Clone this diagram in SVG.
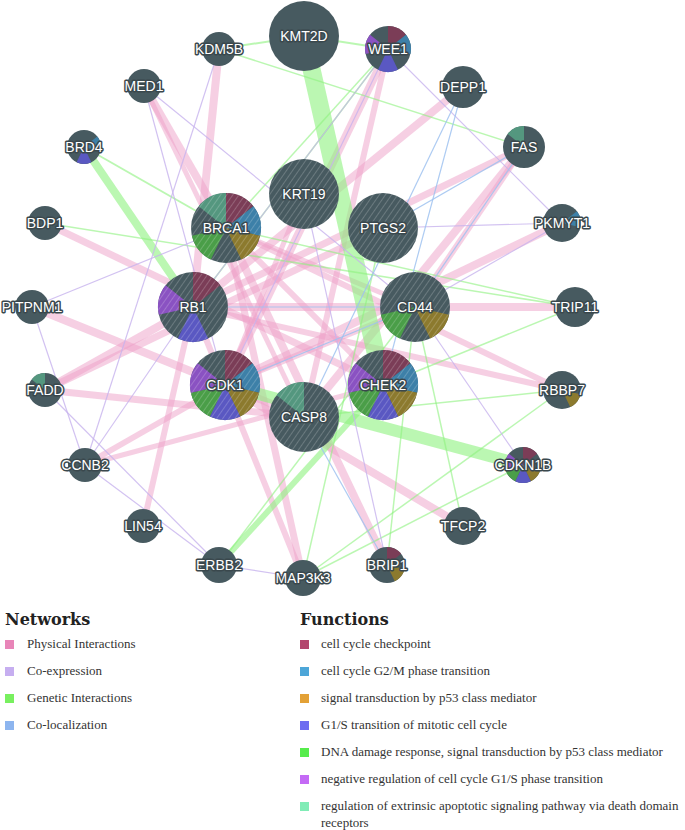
<svg xmlns="http://www.w3.org/2000/svg" xmlns:xlink="http://www.w3.org/1999/xlink" width="685" height="830" viewBox="0 0 685 830">
<style>
.pk{stroke:#ee9fc7;stroke-opacity:.5;fill:none;stroke-linecap:butt}
.gn{stroke:#8ef27e;stroke-opacity:.6;fill:none}
.lv{stroke:#c7b3ee;stroke-opacity:.8;fill:none;stroke-width:1.2}
.bl{stroke:#9fc2f0;stroke-opacity:.85;fill:none;stroke-width:1.2}
.base{fill:#475a60}
.c0{fill:#7b3d57}.c1{fill:#3d80a8}.c2{fill:#8c7a2e}.c3{fill:#5a58c2}.c4{fill:#4a9e48}.c5{fill:#8a52c2}.c6{fill:#54977f}
.hatch{fill:url(#hatch)}
.lbl{font-family:"Liberation Sans",Arial,sans-serif;font-size:14px;fill:#fff;stroke:#3a484d;stroke-width:3px;paint-order:stroke;stroke-linejoin:round;text-anchor:middle}
.ttl{font-family:"DejaVu Serif",serif;font-weight:bold;font-size:16px;fill:#222}
.itm{font-family:"Liberation Serif","Times New Roman",serif;font-size:13px;fill:#333}
</style>
<defs>
<pattern id="hatch" patternUnits="userSpaceOnUse" width="5" height="5" patternTransform="rotate(35)">
<line x1="2.5" y1="0" x2="2.5" y2="5" stroke="#ffffff" stroke-opacity=".22" stroke-width=".9"/>
</pattern>
<path id="s0" d="M0 0L0 -1A1 1 0 0 1 .7818 -.6235Z"/>
<path id="s1" d="M0 0L.7818 -.6235A1 1 0 0 1 .9749 .2225Z"/>
<path id="s2" d="M0 0L.9749 .2225A1 1 0 0 1 .4339 .901Z"/>
<path id="s3" d="M0 0L.4339 .901A1 1 0 0 1 -.4339 .901Z"/>
<path id="s4" d="M0 0L-.4339 .901A1 1 0 0 1 -.9749 .2225Z"/>
<path id="s5" d="M0 0L-.9749 .2225A1 1 0 0 1 -.7818 -.6235Z"/>
<path id="s6" d="M0 0L-.7818 -.6235A1 1 0 0 1 0 -1Z"/>
</defs>
<rect width="685" height="830" fill="#fff"/>

<g id="edges">
<g id="physical">
<line class="pk" stroke-width="8" x1="219" y1="49" x2="193" y2="307"/>
<line class="pk" stroke-width="8" x1="388" y1="49" x2="225" y2="385"/>
<line class="pk" stroke-width="6" x1="388" y1="49" x2="304" y2="417"/>
<line class="pk" stroke-width="8" x1="463" y1="87" x2="193" y2="307"/>
<line class="pk" stroke-width="8" x1="144" y1="86" x2="226" y2="228"/>
<line class="pk" stroke-width="5" x1="144" y1="86" x2="304" y2="417"/>
<line class="pk" stroke-width="7" x1="45" y1="223" x2="383" y2="385"/>
<line class="pk" stroke-width="8" x1="32" y1="307" x2="304" y2="417"/>
<line class="pk" stroke-width="8" x1="45" y1="390" x2="193" y2="307"/>
<line class="pk" stroke-width="7" x1="45" y1="390" x2="383" y2="228"/>
<line class="pk" stroke-width="7" x1="45" y1="390" x2="304" y2="417"/>
<line class="pk" stroke-width="6" x1="85" y1="465" x2="225" y2="385"/>
<line class="pk" stroke-width="5" x1="85" y1="465" x2="383" y2="385"/>
<line class="pk" stroke-width="6" x1="143" y1="526" x2="193" y2="307"/>
<line class="pk" stroke-width="7" x1="303" y1="578" x2="226" y2="228"/>
<line class="pk" stroke-width="6" x1="303" y1="578" x2="193" y2="307"/>
<line class="pk" stroke-width="8" x1="387" y1="565" x2="226" y2="228"/>
<line class="pk" stroke-width="8" x1="463" y1="526" x2="225" y2="385"/>
<line class="pk" stroke-width="8" x1="575" y1="307" x2="193" y2="307"/>
<line class="pk" stroke-width="6" x1="562" y1="390" x2="193" y2="307"/>
<line class="pk" stroke-width="6" x1="562" y1="390" x2="226" y2="228"/>
<line class="pk" stroke-width="8" x1="524" y1="147" x2="304" y2="417"/>
<line class="pk" stroke-width="6" x1="524" y1="147" x2="415" y2="307"/>
<line class="pk" stroke-width="7" x1="524" y1="147" x2="193" y2="307"/>
<line class="pk" stroke-width="8" x1="562" y1="223" x2="225" y2="385"/>
<line class="pk" stroke-width="6" x1="226" y1="228" x2="383" y2="385"/>
<line class="pk" stroke-width="6" x1="415" y1="307" x2="225" y2="385"/>
<line class="pk" stroke-width="5" x1="226" y1="228" x2="415" y2="307"/>
<line class="pk" stroke-width="5" x1="304" y1="194" x2="225" y2="385"/>
</g>
<g id="genetic">
<line class="gn" stroke-width="18" x1="304" y1="36" x2="383" y2="385"/>
<line class="gn" stroke-width="2" x1="304" y1="36" x2="388" y2="49"/>
<line class="gn" stroke-width="2" x1="304" y1="36" x2="219" y2="49"/>
<line class="gn" stroke-width="1.5" x1="219" y1="49" x2="524" y2="147"/>
<line class="gn" stroke-width="1.5" x1="388" y1="49" x2="226" y2="228"/>
<line class="gn" stroke-width="1.5" x1="388" y1="49" x2="193" y2="307"/>
<line class="gn" stroke-width="8" x1="84" y1="147" x2="193" y2="307"/>
<line class="gn" stroke-width="2" x1="84" y1="147" x2="226" y2="228"/>
<line class="gn" stroke-width="1.5" x1="45" y1="223" x2="575" y2="307"/>
<line class="gn" stroke-width="12" x1="225" y1="385" x2="523" y2="465"/>
<line class="gn" stroke-width="6" x1="219" y1="565" x2="383" y2="385"/>
<line class="gn" stroke-width="1.5" x1="219" y1="565" x2="415" y2="307"/>
<line class="gn" stroke-width="1.5" x1="303" y1="578" x2="523" y2="465"/>
<line class="gn" stroke-width="1.5" x1="387" y1="565" x2="415" y2="307"/>
<line class="gn" stroke-width="1.5" x1="463" y1="526" x2="415" y2="307"/>
<line class="gn" stroke-width="1.5" x1="303" y1="578" x2="383" y2="228"/>
<line class="gn" stroke-width="1.5" x1="562" y1="390" x2="304" y2="417"/>
<line class="gn" stroke-width="1.5" x1="562" y1="390" x2="303" y2="578"/>
<line class="gn" stroke-width="1.5" x1="575" y1="307" x2="383" y2="385"/>
<line class="gn" stroke-width="1.5" x1="575" y1="307" x2="226" y2="228"/>
</g>
<g id="coexpression">
<line class="lv" x1="144" y1="86" x2="415" y2="307"/>
<line class="lv" x1="144" y1="86" x2="225" y2="385"/>
<line class="lv" x1="219" y1="49" x2="85" y2="465"/>
<line class="lv" x1="388" y1="49" x2="562" y2="223"/>
<line class="lv" x1="388" y1="49" x2="225" y2="385"/>
<line class="lv" x1="388" y1="49" x2="193" y2="307"/>
<line class="lv" x1="32" y1="307" x2="226" y2="228"/>
<line class="lv" x1="32" y1="307" x2="85" y2="465"/>
<line class="lv" x1="45" y1="390" x2="219" y2="565"/>
<line class="lv" x1="85" y1="465" x2="193" y2="307"/>
<line class="lv" x1="85" y1="465" x2="219" y2="565"/>
<line class="lv" x1="219" y1="565" x2="303" y2="578"/>
<line class="lv" x1="387" y1="565" x2="304" y2="194"/>
<line class="lv" x1="562" y1="223" x2="383" y2="228"/>
<line class="lv" x1="562" y1="223" x2="415" y2="307"/>
<line class="lv" x1="415" y1="307" x2="523" y2="465"/>
</g>
<g id="colocalization">
<line class="bl" x1="463" y1="87" x2="383" y2="385"/>
<line class="bl" x1="463" y1="87" x2="304" y2="417"/>
<line class="bl" x1="524" y1="147" x2="383" y2="228"/>
<line class="bl" x1="524" y1="147" x2="415" y2="307"/>
<line class="bl" x1="304" y1="417" x2="387" y2="565"/>
<line class="bl" x1="193" y1="307" x2="415" y2="307"/>
<line class="bl" x1="225" y1="385" x2="415" y2="307"/>
</g>
</g>

<g id="nodes">
<g id="n-KMT2D"><circle class="base" cx="304" cy="36" r="35"/><text class="lbl" x="304" y="41">KMT2D</text></g>
<g id="n-KDM5B"><circle class="base" cx="219" cy="49" r="17"/><text class="lbl" x="219" y="54">KDM5B</text></g>
<g id="n-WEE1"><circle class="base" cx="388" cy="49" r="23"/><g transform="translate(388 49) scale(23)"><use href="#s0" class="c0"/><use href="#s1" class="c1"/><use href="#s3" class="c3"/><use href="#s5" class="c5"/></g><text class="lbl" x="388" y="54">WEE1</text></g>
<g id="n-MED1"><circle class="base" cx="144" cy="86" r="17"/><text class="lbl" x="144" y="91">MED1</text></g>
<g id="n-DEPP1"><circle class="base" cx="463" cy="87" r="21"/><text class="lbl" x="463" y="92">DEPP1</text></g>
<g id="n-BRD4"><circle class="base" cx="84" cy="147" r="17"/><g transform="translate(84 147) scale(17)"><use href="#s1" class="c1"/><use href="#s3" class="c3"/></g><text class="lbl" x="84" y="152">BRD4</text></g>
<g id="n-FAS"><circle class="base" cx="524" cy="147" r="21"/><g transform="translate(524 147) scale(21)"><use href="#s6" class="c6"/></g><text class="lbl" x="524" y="152">FAS</text></g>
<g id="n-KRT19"><circle class="base" cx="304" cy="194" r="35"/><circle class="hatch" cx="304" cy="194" r="35"/><text class="lbl" x="304" y="199">KRT19</text></g>
<g id="n-BRCA1"><circle class="base" cx="226" cy="228" r="35"/><g transform="translate(226 228) scale(35)"><use href="#s0" class="c0"/><use href="#s1" class="c1"/><use href="#s2" class="c2"/><use href="#s4" class="c4"/><use href="#s6" class="c6"/></g><circle class="hatch" cx="226" cy="228" r="35"/><text class="lbl" x="226" y="233">BRCA1</text></g>
<g id="n-PTGS2"><circle class="base" cx="383" cy="228" r="35"/><circle class="hatch" cx="383" cy="228" r="35"/><text class="lbl" x="383" y="233">PTGS2</text></g>
<g id="n-BDP1"><circle class="base" cx="45" cy="223" r="17"/><text class="lbl" x="45" y="228">BDP1</text></g>
<g id="n-PKMYT1"><circle class="base" cx="562" cy="223" r="19"/><g transform="translate(562 223) scale(19)"><use href="#s1" class="c1"/></g><text class="lbl" x="562" y="228">PKMYT1</text></g>
<g id="n-RB1"><circle class="base" cx="193" cy="307" r="35"/><g transform="translate(193 307) scale(35)"><use href="#s0" class="c0"/><use href="#s3" class="c3"/><use href="#s5" class="c5"/></g><circle class="hatch" cx="193" cy="307" r="35"/><text class="lbl" x="193" y="312">RB1</text></g>
<g id="n-CD44"><circle class="base" cx="415" cy="307" r="35"/><g transform="translate(415 307) scale(35)"><use href="#s2" class="c2"/><use href="#s4" class="c4"/></g><circle class="hatch" cx="415" cy="307" r="35"/><text class="lbl" x="415" y="312">CD44</text></g>
<g id="n-PITPNM1"><circle class="base" cx="32" cy="307" r="17"/><text class="lbl" x="32" y="312">PITPNM1</text></g>
<g id="n-TRIP11"><circle class="base" cx="575" cy="307" r="20"/><text class="lbl" x="575" y="312">TRIP11</text></g>
<g id="n-CDK1"><circle class="base" cx="225" cy="385" r="35"/><g transform="translate(225 385) scale(35)"><use href="#s0" class="c0"/><use href="#s1" class="c1"/><use href="#s2" class="c2"/><use href="#s3" class="c3"/><use href="#s4" class="c4"/><use href="#s5" class="c5"/></g><circle class="hatch" cx="225" cy="385" r="35"/><text class="lbl" x="225" y="390">CDK1</text></g>
<g id="n-CHEK2"><circle class="base" cx="383" cy="385" r="35"/><g transform="translate(383 385) scale(35)"><use href="#s0" class="c0"/><use href="#s1" class="c1"/><use href="#s2" class="c2"/><use href="#s3" class="c3"/><use href="#s4" class="c4"/><use href="#s5" class="c5"/></g><circle class="hatch" cx="383" cy="385" r="35"/><text class="lbl" x="383" y="390">CHEK2</text></g>
<g id="n-FADD"><circle class="base" cx="45" cy="390" r="17"/><g transform="translate(45 390) scale(17)"><use href="#s6" class="c6"/></g><text class="lbl" x="45" y="395">FADD</text></g>
<g id="n-RBBP7"><circle class="base" cx="562" cy="390" r="19"/><g transform="translate(562 390) scale(19)"><use href="#s2" class="c2"/></g><text class="lbl" x="562" y="395">RBBP7</text></g>
<g id="n-CASP8"><circle class="base" cx="304" cy="417" r="35"/><g transform="translate(304 417) scale(35)"><use href="#s6" class="c6"/></g><circle class="hatch" cx="304" cy="417" r="35"/><text class="lbl" x="304" y="422">CASP8</text></g>
<g id="n-CCNB2"><circle class="base" cx="85" cy="465" r="17"/><text class="lbl" x="85" y="470">CCNB2</text></g>
<g id="n-CDKN1B"><circle class="base" cx="523" cy="465" r="18"/><g transform="translate(523 465) scale(18)"><use href="#s0" class="c0"/><use href="#s2" class="c2"/><use href="#s3" class="c3"/><use href="#s4" class="c4"/><use href="#s5" class="c5"/></g><text class="lbl" x="523" y="470">CDKN1B</text></g>
<g id="n-LIN54"><circle class="base" cx="143" cy="526" r="17"/><text class="lbl" x="143" y="531">LIN54</text></g>
<g id="n-TFCP2"><circle class="base" cx="463" cy="526" r="19"/><text class="lbl" x="463" y="531">TFCP2</text></g>
<g id="n-ERBB2"><circle class="base" cx="219" cy="565" r="18"/><text class="lbl" x="219" y="570">ERBB2</text></g>
<g id="n-MAP3K3"><circle class="base" cx="303" cy="578" r="18"/><text class="lbl" x="303" y="583">MAP3K3</text></g>
<g id="n-BRIP1"><circle class="base" cx="387" cy="565" r="18"/><g transform="translate(387 565) scale(18)"><use href="#s0" class="c0"/><use href="#s2" class="c2"/></g><text class="lbl" x="387" y="570">BRIP1</text></g>
</g>

<g id="legend-networks">
<text class="ttl" x="5" y="625">Networks</text>
<rect x="5" y="640" width="9" height="9" fill="#e885b8"/><text class="itm" x="27" y="648">Physical Interactions</text>
<rect x="5" y="667" width="9" height="9" fill="#c6aef0"/><text class="itm" x="27" y="675">Co-expression</text>
<rect x="5" y="694" width="9" height="9" fill="#78f05f"/><text class="itm" x="27" y="702">Genetic Interactions</text>
<rect x="5" y="721" width="9" height="9" fill="#8db5ef"/><text class="itm" x="27" y="729">Co-localization</text>
</g>
<g id="legend-functions">
<text class="ttl" x="300" y="625">Functions</text>
<rect x="300" y="640" width="9" height="9" fill="#b3466d"/><text class="itm" x="321" y="648">cell cycle checkpoint</text>
<rect x="300" y="667" width="9" height="9" fill="#4da6d8"/><text class="itm" x="321" y="675">cell cycle G2/M phase transition</text>
<rect x="300" y="694" width="9" height="9" fill="#e3a136"/><text class="itm" x="321" y="702">signal transduction by p53 class mediator</text>
<rect x="300" y="721" width="9" height="9" fill="#6d6cf0"/><text class="itm" x="321" y="729">G1/S transition of mitotic cell cycle</text>
<rect x="300" y="748" width="9" height="9" fill="#56ec4c"/><text class="itm" x="321" y="756">DNA damage response, signal transduction by p53 class mediator</text>
<rect x="300" y="775" width="9" height="9" fill="#c46af5"/><text class="itm" x="321" y="783">negative regulation of cell cycle G1/S phase transition</text>
<rect x="300" y="802" width="9" height="9" fill="#80ecb6"/><text class="itm" x="321" y="810">regulation of extrinsic apoptotic signaling pathway via death domain</text>
<text class="itm" x="321" y="827">receptors</text>
</g>
</svg>
